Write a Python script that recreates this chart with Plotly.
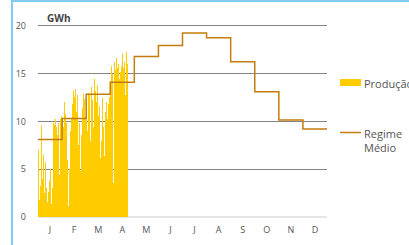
import plotly.graph_objects as go

# ---------------- data ----------------
month_labels = ["J", "F", "M", "A", "M", "J", "J", "A", "S", "O", "N", "D"]
days_in_month = [31, 28, 31, 30, 31, 30, 31, 31, 30, 31, 30, 31]

# daily production (GWh), Jan 1 .. Apr 22
prod_jan = [7.0, 1.8, 5.5, 3.2, 9.6, 4.0, 2.0, 6.5, 2.5, 5.8,
            3.0, 6.6, 1.6, 2.6, 3.8, 2.4, 5.0, 1.4, 3.0, 9.8,
            10.8, 9.6, 10.2, 9.4, 10.0, 8.6, 9.8, 4.4, 10.2, 9.0, 10.6]
prod_feb = [10.2, 9.4, 12.0, 10.8, 8.5, 9.8, 6.0, 1.2, 5.0, 9.0,
            10.4, 7.8, 11.8, 13.2, 12.6, 13.4, 11.0, 12.8, 10.4, 7.5,
            9.8, 4.8, 8.6, 11.4, 12.9, 9.6, 12.3, 10.5]
prod_mar = [12.4, 9.0, 13.0, 11.2, 12.8, 8.0, 13.6, 10.2, 12.2, 9.4,
            14.4, 11.0, 13.2, 12.0, 13.8, 10.6, 9.0, 11.6, 6.2, 8.0,
            10.4, 12.4, 9.4, 6.4, 11.0, 8.6, 12.0, 10.2, 11.8, 9.6, 12.6]
prod_apr = [14.2, 15.8, 15.0, 14.6, 3.6, 16.2, 15.4, 16.6, 14.8, 15.6,
            16.0, 14.4, 15.2, 16.4, 15.8, 17.0, 15.6, 16.2, 12.8, 15.4,
            17.3, 16.0]
production = [prod_jan, prod_feb, prod_mar, prod_apr]

# average regime per month (GWh/day)
regime_medio = [8.1, 10.3, 12.85, 14.1, 16.8, 17.95, 19.25, 18.75, 16.25, 13.1, 10.15, 9.2]

y_ticks = [0, 5, 10, 15, 20]

# ---------------- build positions (month units on x) ----------------
bx, by, bw = [], [], []
for m, vals in enumerate(production):
    n = days_in_month[m]
    for d, v in enumerate(vals):
        bx.append(m + (d + 0.5) / n)
        by.append(v)
        bw.append(1.0 / n)

step_x = list(range(len(regime_medio) + 1))
step_y = regime_medio + [regime_medio[-1]]

W, H = 409, 245
ML, MR, MT, MB = 38, 82, 21, 28
PW, PH = W - ML - MR, H - MT - MB


def px(x):
    return (x - ML) / PW


def py(y):
    return (H - MB - y) / PH


fig = go.Figure()
fig.add_trace(go.Bar(x=bx, y=by, width=bw, name="Produção",
                     marker=dict(color="#FFCC00", line=dict(width=0)),
                     showlegend=False))
fig.add_trace(go.Scatter(x=step_x, y=step_y, mode="lines", line_shape="hv",
                         name="Regime Médio",
                         line=dict(color="#C47C0C", width=1.5),
                         showlegend=False))

font_main = "Open Sans, Verdana, sans-serif"

fig.update_layout(
    width=W, height=H,
    margin=dict(l=ML, r=MR, t=MT, b=MB, pad=0),
    paper_bgcolor="white", plot_bgcolor="white",
    bargap=0,
    font=dict(family=font_main, size=9, color="#555555"),
    xaxis=dict(range=[0, 12], tickmode="array",
               tickvals=[i + 0.5 for i in range(12)], ticktext=month_labels,
               showgrid=False, zeroline=False, ticks="", automargin=False,
               showline=False, ticklabelstandoff=6, fixedrange=True),
    yaxis=dict(range=[0, 20.5], tickmode="array", tickvals=y_ticks,
               showgrid=True, gridcolor="#858585", gridwidth=1,
               zeroline=True, zerolinecolor="#E6E6E6", zerolinewidth=2,
               ticks="", showline=False, ticklabelstandoff=11, automargin=False,
               fixedrange=True),
    shapes=[
        # frame (light blue, left and top)
        dict(type="line", xref="paper", yref="paper",
             x0=px(12), x1=px(12), y0=py(0), y1=py(H + 5),
             line=dict(color="#84CBF0", width=2)),
        dict(type="line", xref="paper", yref="paper",
             x0=px(11), x1=px(W + 5), y0=py(1), y1=py(1),
             line=dict(color="#84CBF0", width=2)),
        # legend swatches
        dict(type="rect", xref="paper", yref="paper",
             x0=px(340), x1=px(361), y0=py(86), y1=py(79),
             fillcolor="#FFCC00", line=dict(width=0)),
        dict(type="line", xref="paper", yref="paper",
             x0=px(340), x1=px(361), y0=py(132.5), y1=py(132.5),
             line=dict(color="#C47C0C", width=1.5)),
    ],
    annotations=[
        dict(text="<b>GWh</b>", xref="paper", yref="paper",
             x=px(45), y=py(18), xanchor="left", yanchor="middle",
             showarrow=False, font=dict(size=10, color="#444444", family=font_main)),
        dict(text="Produção", xref="paper", yref="paper",
             x=px(362), y=py(83), xanchor="left", yanchor="middle",
             showarrow=False, font=dict(size=11, color="#555555", family=font_main)),
        dict(text="Regime<br>Médio", xref="paper", yref="paper",
             x=px(362), y=py(140), xanchor="left", yanchor="middle", align="left",
             showarrow=False, font=dict(size=11, color="#555555", family=font_main)),
    ],
)

fig.write_html("out.html", config={"staticPlot": True},
               post_script="document.body.style.margin='0';")
